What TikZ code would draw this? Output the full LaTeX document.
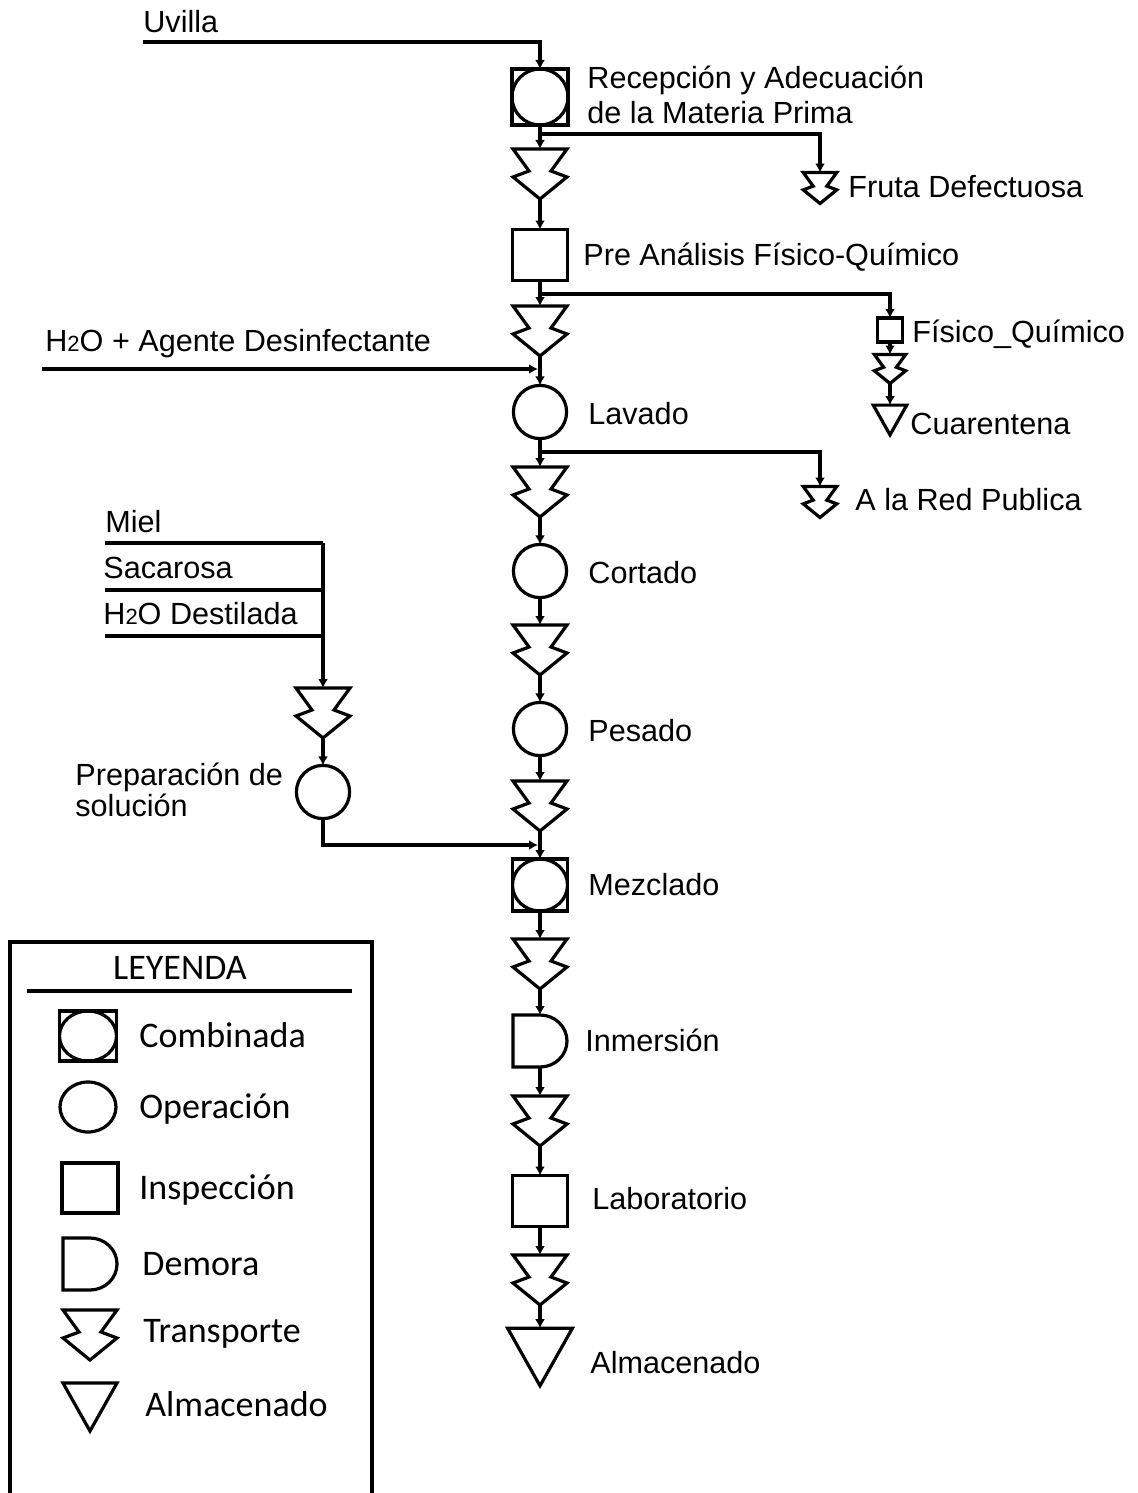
\documentclass[tikz,border=0pt]{standalone}
\usepackage{fontspec}
\setmainfont{Liberation Sans}
\newfontfamily\legfont{Carlito}
\usetikzlibrary{arrows.meta,shapes.geometric}
\newcommand{\hdos}{H{\fontsize{11}{11}\selectfont 2}O}

\tikzset{
  linea/.style={line width=1.6pt},
  flecha/.style={linea, -{Latex[length=4.5pt,width=5pt]}},
  oper/.style={circle, draw, linea, minimum size=#1, inner sep=0pt, outer sep=0pt},
  oper/.default=26.6pt,
  insp/.style 2 args={rectangle, draw, linea, minimum width=#1, minimum height=#2, inner sep=0pt, outer sep=0pt},
  comb/.style 2 args={insp={#1}{#2}, path picture={\draw[linea] (path picture bounding box.center) ellipse [x radius=#1/2, y radius=#2/2];}},
  transp/.style={minimum width=#1*27pt, minimum height=#1*25pt, inner sep=0pt, outer sep=0pt,
    append after command={\pgfextra{\pgfinterruptpath
      \draw[linea, shift={(\tikzlastnode.center)}, scale=#1]
        (-13.5pt,12.5pt) -- (-5.5pt,1.5pt) -- (-13.5pt,-1.5pt) -- (0pt,-12.5pt)
        -- (13.5pt,-1.5pt) -- (5.5pt,1.5pt) -- (13.5pt,12.5pt) -- cycle;
      \endpgfinterruptpath}}},
  transp/.default=1,
  demora/.style={minimum width=27pt, minimum height=26pt, inner sep=0pt, outer sep=0pt,
    append after command={\pgfextra{\pgfinterruptpath
      \draw[linea, shift={(\tikzlastnode.center)}]
        (-13.5pt,13pt) -- (0pt,13pt) arc[start angle=90, end angle=-90, x radius=13.5pt, y radius=13pt]
        -- (-13.5pt,-13pt) -- cycle;
      \endpgfinterruptpath}}},
  almac/.style={minimum width=#1*27pt, minimum height=#1*24pt, inner sep=0pt, outer sep=0pt,
    append after command={\pgfextra{\pgfinterruptpath
      \draw[linea, shift={(\tikzlastnode.center)}, scale=#1]
        (-13.5pt,12pt) -- (13.5pt,12pt) -- (0pt,-12pt) -- cycle;
      \endpgfinterruptpath}}},
  almac/.default=1,
  etiq/.style={anchor=west, inner sep=0pt, font=\fontsize{15.3}{18}\selectfont, text height=11pt, text depth=0pt},
  etiqdos/.style={anchor=west, inner sep=0pt, align=left, font=\fontsize{15.3}{#1}\selectfont},
  leyt/.style={anchor=west, inner sep=0pt, font=\legfont\fontsize{18}{20}\selectfont, text height=11.6pt, text depth=0pt}
}

\begin{document}
\begin{tikzpicture}[x=0.5pt, y=-0.5pt]
  \useasboundingbox (0,0) rectangle (1138,1493);

  \node[comb={28pt}{28pt}] (c1) at (540,97) {};
  \node[transp] (t1) at (540,174) {};
  \node[insp={27.5pt}{25.5pt}] (i1) at (540,255) {};
  \node[transp] (t2) at (540,331) {};
  \node[oper] (o1) at (540,412) {};
  \node[transp] (t3) at (540,492) {};
  \node[oper] (o2) at (540,571) {};
  \node[transp] (t4) at (540,650) {};
  \node[oper] (o3) at (540,729) {};
  \node[transp] (t5) at (540,806) {};
  \node[comb={27.5pt}{26pt}] (c2) at (540,885) {};
  \node[transp] (t6) at (540,964) {};
  \node[demora] (d1) at (540,1041) {};
  \node[transp] (t7) at (540,1121) {};
  \node[insp={27.5pt}{25.5pt}] (i2) at (540,1201) {};
  \node[transp] (t8) at (540,1280) {};
  \node[almac=1.2] (a1) at (540,1357) {};

  \foreach \a/\b in {c1/t1,t1/i1,i1/t2,t2/o1,o1/t3,t3/o2,o2/t4,t4/o3,o3/t5,t5/c2,c2/t6,t6/d1,d1/t7,t7/i2,i2/t8,t8/a1}{\draw[flecha] (\a) -- (\b); }

  \node[transp=0.62] (tA) at (820,188) {};
  \node[insp={12.5pt}{12pt}] (sq) at (890,330) {};
  \node[transp=0.58] (tB) at (890,369) {};
  \node[almac=0.62] (aC) at (890,420) {};
  \node[transp=0.62] (tC) at (820,502) {};

  \coordinate (r1) at (540,134);
  \coordinate (r2) at (540,294);
  \coordinate (r3) at (540,452);
  \draw[flecha] (r1) -| (tA);
  \draw[flecha] (r2) -| (sq);
  \draw[flecha] (sq) -- (tB);
  \draw[flecha] (tB) -- (aC);
  \draw[flecha] (r3) -| (tC);

  \coordinate (uv) at (143,42);
  \draw[flecha] (uv) -| (c1);
  \coordinate (ag) at (42,369);
  \coordinate (e1) at (538,369);
  \draw[flecha] (ag) -- (e1);

  \node[transp] (tL) at (323,713) {};
  \node[oper] (oL) at (323,792) {};
  \coordinate (k) at (323,543);
  \coordinate (mi) at (105,543);
  \coordinate (sa) at (105,590);
  \coordinate (hd) at (105,636);
  \foreach \p in {mi,sa,hd}{\draw[linea] (\p) -- (\p -| k); }
  \draw[flecha] (k) -- (tL);
  \draw[flecha] (tL) -- (oL);
  \coordinate (e2) at (538,845);
  \draw[flecha] (oL) |- (e2);

  \node[etiq] (lUv) at (143,22) {Uvilla};
  \node[etiqdos=17.5pt] (lRe) at (587,95) {Recepción y Adecuación\\de la Materia Prima};
  \node[etiq] (lFr) at (848,186) {Fruta Defectuosa};
  \node[etiq] (lPre) at (583,254) {Pre Análisis Físico-Químico};
  \node[etiq] (lFq) at (912,331) {Físico\_Químico};
  \node[etiq] (lCu) at (910,423) {Cuarentena};
  \node[etiq] (lAg) at (45,340) {\hdos{} + Agente Desinfectante};
  \node[etiq] (lLa) at (588,413) {Lavado};
  \node[etiq] (lRed) at (855,499) {A la Red Publica};
  \node[etiq] (lMi) at (105,521) {Miel};
  \node[etiq] (lSa) at (103,567) {Sacarosa};
  \node[etiq] (lHd) at (103,613) {\hdos{} Destilada};
  \node[etiqdos=15.3pt] (lPr) at (75,790) {Preparación de\\solución};
  \node[etiq] (lCo) at (588,572) {Cortado};
  \node[etiq] (lPe) at (588,730) {Pesado};
  \node[etiq] (lMe) at (588,884) {Mezclado};
  \node[etiq] (lIn) at (585,1040) {Inmersión};
  \node[etiq] (lLab) at (592,1198) {Laboratorio};
  \node[etiq] (lAl) at (590,1362) {Almacenado};

  \draw[linea] (10,1493) |- (372,942) -- (372,1493);
  \node[font=\legfont\fontsize{18}{20}\selectfont] (ley) at (180,968) {LEYENDA};
  \draw[linea] (27,991) -- (352,991);
  \node[comb={28.5pt}{25pt}] (lc) at (88,1036) {};
  \node[ellipse, draw, linea, minimum width=28pt, minimum height=25pt, inner sep=0pt] (lo) at (88,1107) {};
  \node[insp={28pt}{25pt}] (li) at (90,1188) {};
  \node[demora] (ld) at (90,1264) {};
  \node[transp] (lt) at (90,1335) {};
  \node[almac] (la) at (90,1407) {};
  \node[leyt] at (139,1036) {Combinada};
  \node[leyt] at (139,1107) {Operación};
  \node[leyt] at (139,1188) {Inspección};
  \node[leyt] at (142,1264) {Demora};
  \node[leyt] at (143,1331) {Transporte};
  \node[leyt] at (145,1405) {Almacenado};
\end{tikzpicture}
\end{document}
